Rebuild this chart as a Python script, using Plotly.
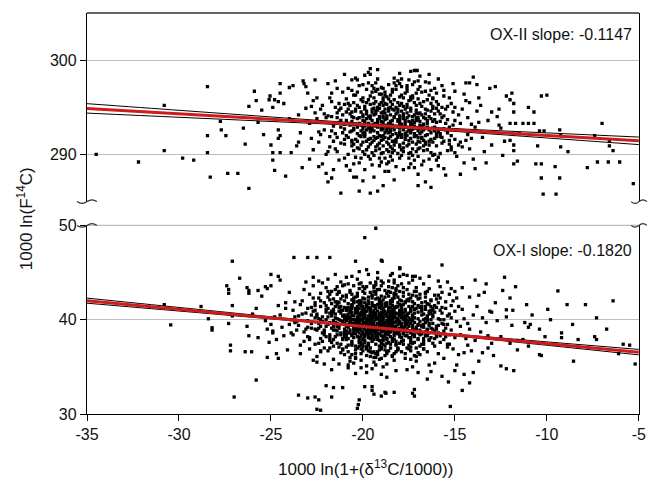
import plotly.graph_objects as go

# ---------------- data ----------------
x_ticks = [-35, -30, -25, -20, -15, -10, -5]
x_ticklabels = ["-35", "-30", "-25", "-20", "-15", "-10", "-5"]
ox2_ticks = [290, 300]
ox1_ticks = [30, 40, 50]

ox2_label = "OX-II slope: -0.1147"
ox1_label = "OX-I slope: -0.1820"
ox2_slope = -0.1147
ox2_intercept = 290.87
ox1_slope = -0.1820
ox1_intercept = 35.65

band_x = [-35, -30, -25, -20, -15, -10, -5]
ox2_band = [0.50, 0.37, 0.24, 0.13, 0.15, 0.27, 0.40]
ox1_band = [0.27, 0.19, 0.11, 0.06, 0.09, 0.18, 0.29]

ox2_points = [
(-19.2,293.4),(-18.1,291.8),(-17.4,294.6),(-20.3,292.2),(-16.8,293.0),(-18.9,295.7),(-21.4,293.9),(-15.9,292.4),(-19.7,290.8),(-17.9,296.3),
(-18.4,292.9),(-20.8,294.8),(-16.2,295.1),(-19.5,291.3),(-17.2,291.9),(-22.1,292.6),(-18.7,294.1),(-15.4,293.7),(-20.0,296.0),(-16.9,290.7),
(-19.9,293.0),(-17.7,293.3),(-18.3,290.4),(-21.0,291.6),(-16.4,294.0),(-19.0,297.1),(-17.0,295.9),(-20.6,293.5),(-14.8,294.2),(-18.6,292.3),
(-19.4,294.9),(-15.7,291.2),(-17.5,292.6),(-22.6,294.4),(-18.0,289.6),(-16.6,296.7),(-20.1,291.0),(-19.1,292.0),(-17.3,297.4),(-21.7,295.6),
(-18.8,293.7),(-16.0,293.4),(-14.3,292.1),(-20.4,289.7),(-17.8,294.3),(-19.6,295.3),(-18.2,296.9),(-15.2,295.4),(-21.2,292.9),(-16.7,291.5),
(-19.3,291.7),(-17.1,293.9),(-20.7,294.3),(-18.5,295.0),(-15.8,290.1),(-22.4,291.3),(-19.8,292.6),(-16.3,292.3),(-17.6,290.9),(-18.0,293.6),
(-20.2,297.3),(-14.6,290.8),(-19.0,289.2),(-17.4,296.1),(-21.5,290.6),(-16.1,297.0),(-18.6,291.1),(-20.9,295.9),(-15.5,294.8),(-19.4,293.2),
(-17.9,292.1),(-18.3,294.7),(-16.5,293.6),(-20.5,292.8),(-19.1,296.4),(-22.9,293.3),(-17.2,289.4),(-15.0,291.6),(-18.9,290.2),(-21.3,294.7),
(-16.9,294.4),(-19.7,294.0),(-18.1,297.8),(-20.0,290.3),(-17.6,295.3),(-14.1,293.2),(-16.2,289.9),(-19.2,298.0),(-21.8,291.9),(-18.4,291.4),
(-20.3,293.8),(-15.3,292.9),(-17.0,292.5),(-18.7,296.1),(-19.5,288.9),(-16.7,295.6),(-22.2,295.2),(-13.8,294.6),(-20.6,291.5),(-17.8,291.2),
(-18.2,293.0),(-19.9,295.1),(-16.4,291.0),(-21.1,296.6),(-15.6,296.2),(-18.9,292.7),(-17.3,294.0),(-20.8,290.0),(-14.9,289.8),(-19.3,296.7),
(-16.0,294.9),(-18.5,289.8),(-21.6,293.0),(-17.5,297.9),(-19.6,292.4),(-15.1,293.1),(-20.1,294.5),(-22.7,290.5),(-17.1,290.3),(-18.8,295.4),
(-16.6,292.0),(-19.0,294.4),(-20.4,296.3),(-14.4,295.7),(-18.0,291.0),(-21.9,294.1),(-17.7,293.0),(-15.9,288.8),(-19.8,290.5),(-16.8,296.6),
(-18.3,295.8),(-20.7,292.4),(-17.0,291.4),(-19.4,291.9),(-15.4,290.4),(-21.4,297.0),(-16.3,293.8),(-18.6,297.4),(-20.0,294.2),(-13.5,291.8),
(-17.4,292.3),(-19.1,290.6),(-22.3,292.1),(-16.1,291.7),(-18.1,294.5),(-20.2,289.1),(-15.7,297.3),(-19.7,297.6),(-17.9,289.9),(-21.0,293.2),
(-18.4,296.6),(-16.9,292.8),(-20.5,295.5),(-14.7,291.3),(-19.2,295.0),(-17.2,295.5),(-22.0,290.0),(-18.7,289.0),(-15.8,294.3),(-20.9,292.0),
(-16.5,290.5),(-19.5,293.6),(-17.6,297.0),(-21.2,291.2),(-18.0,292.4),(-14.2,290.6),(-20.3,297.9),(-16.2,295.9),(-19.0,291.5),(-23.1,294.9),
(-17.3,293.2),(-18.8,294.8),(-15.2,292.0),(-20.6,290.9),(-19.9,298.4),(-16.7,289.3),(-21.7,292.5),(-17.8,295.1),(-15.6,296.8),(-18.5,290.8),
(-19.3,294.3),(-17.1,296.5),(-20.1,293.1),(-16.0,290.9),(-18.2,288.7),(-22.5,296.0),(-14.5,296.4),(-19.6,289.5),(-17.5,291.1),(-21.5,295.0),
(-18.9,293.9),(-16.4,297.6),(-20.0,292.7),(-15.0,290.2),(-17.7,294.8),(-19.8,296.9),(-21.3,289.4),(-16.8,294.2),(-18.4,292.1),(-13.9,292.9),
(-22.8,291.7),(-23.4,292.3),(-21.9,297.5),(-22.2,289.0),(-23.0,296.5),(-21.6,288.4),(-24.0,293.8),(-23.6,290.9),(-22.6,297.9),(-24.3,295.4),
(-13.2,293.6),(-13.7,296.0),(-14.0,289.5),(-12.9,292.4),(-13.4,290.3),(-14.4,297.6),(-12.6,294.8),(-13.9,288.5),(-12.3,291.4),(-13.1,297.0),
(-18.6,288.2),(-17.0,287.9),(-19.4,287.6),(-16.3,288.4),(-20.7,288.3),(-15.5,287.8),(-18.0,298.6),(-16.9,298.3),(-19.2,299.0),(-17.4,298.8),
(-20.4,298.1),(-15.9,298.0),(-21.0,298.5),(-14.7,287.9),(-22.0,288.0),(-18.3,287.3),(-16.6,287.1),(-20.0,287.2),(-14.0,298.2),(-23.3,288.6),
(-19.0,292.8),(-18.1,293.5),(-17.3,292.7),(-19.6,294.1),(-18.6,293.3),(-17.8,293.8),(-18.9,291.6),(-20.2,293.3),(-16.5,293.3),(-17.6,292.0),
(-19.9,291.9),(-18.3,291.0),(-17.0,294.3),(-16.1,292.5),(-18.7,292.5),(-19.3,295.6),(-20.5,293.9),(-17.2,292.2),(-15.8,293.5),(-18.0,295.2),
(-19.5,292.6),(-16.9,291.3),(-17.9,290.5),(-20.8,293.3),(-18.5,294.2),(-16.3,294.6),(-19.1,293.8),(-17.5,293.5),(-18.2,292.2),(-15.3,291.5),
(-24.6,291.7),(-23.8,297.3),(-24.9,289.4),(-23.5,294.2),(-12.0,295.8),(-11.5,292.2),(-12.4,289.9),(-12.8,297.2),(-11.8,290.4),(-24.2,287.7),
(-16.2,296.0),(-18.8,296.3),(-20.3,295.2),(-15.0,295.0),(-21.4,294.4),(-17.4,289.0),(-19.7,289.8),(-16.0,289.4),(-21.8,290.8),(-14.3,293.9),
(-17.1,293.6),(-18.4,293.1),(-19.2,292.3),(-16.7,292.6),(-20.0,291.3),(-17.7,296.5),(-18.9,297.0),(-15.6,292.7),(-20.6,296.8),(-14.8,291.0),
(-18.7,293.8),(-17.5,291.5),(-19.4,292.5),(-16.6,294.3),(-20.1,295.8),(-18.0,290.8),(-17.1,295.2),(-19.9,293.5),(-16.2,292.8),(-18.5,296.3),
(-20.6,292.5),(-17.8,292.6),(-19.0,290.1),(-15.9,295.3),(-18.3,294.0),(-21.1,294.2),(-16.9,293.5),(-19.6,296.2),(-17.3,290.6),(-18.9,292.0),
(-20.4,291.6),(-16.4,296.3),(-19.2,294.7),(-17.6,293.9),(-15.4,292.3),(-18.1,295.5),(-21.5,292.2),(-17.0,289.8),(-19.8,294.6),(-16.7,290.9),
(-18.6,291.7),(-20.2,293.9),(-17.4,294.9),(-15.7,293.9),(-19.3,297.6),(-18.4,289.4),(-21.3,295.4),(-16.1,294.3),(-17.9,297.2),(-20.0,292.2),
(-19.1,291.2),(-17.2,293.0),(-15.2,290.5),(-18.8,294.4),(-20.8,297.0),(-16.5,292.1),(-19.5,290.2),(-17.7,291.6),(-22.0,293.9),(-18.2,297.3),
(-16.3,290.2),(-19.7,293.3),(-17.0,296.9),(-20.5,291.1),(-18.5,293.5),(-15.1,294.5),(-21.8,296.0),(-17.3,291.3),(-19.0,295.5),(-16.8,295.1),
(-18.0,292.8),(-20.3,290.7),(-17.5,295.7),(-19.4,289.9),(-15.6,291.4),(-18.7,290.5),(-21.0,291.1),(-16.0,296.5),(-19.8,291.4),(-17.8,296.0),
(-18.3,292.6),(-20.7,295.2),(-16.6,291.1),(-19.2,291.0),(-14.9,292.6),(-17.1,292.0),(-22.5,293.8),(-18.9,296.0),(-20.0,297.4),(-16.2,293.5),
(-19.5,294.5),(-17.6,294.4),(-15.3,296.0),(-18.1,290.1),(-21.2,293.6),(-16.9,297.2),(-19.9,290.0),(-17.4,290.2),(-18.6,295.9),(-20.4,294.8),
(-16.4,292.6),(-19.0,293.1),(-17.7,292.9),(-15.8,291.9),(-18.4,295.3),(-21.6,291.4),(-16.7,293.9),(-20.1,289.6),(-17.2,297.7),(-19.3,293.0),
(-18.2,291.3),(-16.0,291.9),(-20.6,294.0),(-17.9,294.6),(-19.6,291.7),(-15.5,293.3),(-18.8,289.6),(-21.4,290.3),(-17.0,293.7),(-19.2,296.9),
(-16.3,295.4),(-18.5,292.4),(-20.2,292.0),(-17.5,289.6),(-19.7,295.8),(-15.0,293.6),(-18.0,294.1),(-22.3,294.8),(-16.8,291.8),(-19.1,294.0),
(-17.3,296.2),(-20.9,293.6),(-18.7,291.3),(-16.1,290.0),(-19.4,296.0),(-17.8,290.3),(-14.6,294.8),(-18.3,297.6),(-20.5,290.4),(-16.6,294.8),
(-19.9,292.3),(-17.1,291.1),(-18.9,295.2),(-21.7,294.0),(-16.4,289.5),(-19.3,290.4),(-17.6,296.7),(-15.7,295.0),(-18.1,292.9),(-20.0,295.6),
(-16.9,292.2),(-18.6,294.9),(-20.8,291.8),(-17.4,293.4),(-19.5,297.3),(-15.3,291.1),(-18.4,290.2),(-21.0,295.3),(-16.2,291.3),(-19.0,292.6),
(-17.9,293.2),(-19.8,293.8),(-18.6,292.9),(-17.2,294.2),(-18.9,293.4),(-19.4,294.2),(-18.1,294.8),(-17.7,291.9),(-19.2,291.8),(-18.4,293.6),
(-16.7,293.2),(-20.3,292.9),(-17.4,292.5),(-18.8,292.3),(-19.6,293.0),(-18.0,293.9),(-17.0,292.8),(-20.0,293.6),(-18.5,291.9),(-16.5,294.7),
(-23.5,291.3),(-22.8,295.1),(-23.9,290.2),(-22.4,288.7),(-23.2,297.5),(-13.6,295.2),(-14.1,291.7),(-13.3,289.1),(-14.5,289.1),(-13.0,291.0),
(-12.6,293.1),(-14.2,295.5),(-13.8,297.4),(-12.2,296.2),(-15.1,297.5),(-22.9,289.5),(-21.5,297.8),(-20.9,288.8),(-15.6,288.5),(-17.8,288.4),
(-18.2,294.3),(-19.5,292.9),(-17.3,293.6),(-20.4,294.6),(-16.8,292.4),(-18.9,290.9),(-17.6,295.0),(-19.9,292.1),(-16.1,293.7),(-18.5,295.6),
(-20.7,293.1),(-17.0,290.6),(-19.2,293.7),(-15.8,292.2),(-18.0,296.1),(-21.0,292.7),(-17.5,294.1),(-19.6,291.1),(-16.5,295.8),(-18.7,292.7),
(-20.1,291.9),(-17.9,295.4),(-19.3,294.6),(-16.3,291.6),(-18.4,290.6),(-20.9,294.5),(-17.2,292.8),(-19.0,296.4),(-15.6,294.1),(-18.1,292.0),
(-20.5,292.6),(-16.9,295.4),(-19.7,292.8),(-17.4,291.7),(-18.6,294.6),(-21.3,293.4),(-16.0,292.2),(-19.1,295.3),(-17.8,290.7),(-18.3,293.9),
(-20.2,295.0),(-16.6,293.8),(-19.4,291.5),(-17.1,294.7),(-18.8,291.8),(-15.9,294.6),(-20.6,291.3),(-17.7,293.6),(-19.8,295.5),(-16.4,291.4),
(-18.5,293.2),(-21.1,292.3),(-17.0,293.9),(-19.5,294.8),(-16.7,290.4),(-18.2,291.6),(-20.0,294.0),(-17.3,296.0),(-19.0,291.9),(-15.5,292.6),
(-18.9,294.5),(-20.3,291.4),(-16.2,294.9),(-19.2,292.9),(-17.5,290.1),(-18.0,293.3),(-20.8,295.4),(-16.8,291.7),(-19.6,293.8),(-17.8,294.0),
(-18.4,296.9),(-21.5,293.3),(-16.0,295.6),(-19.3,290.8),(-17.2,293.4),(-18.7,295.3),(-20.1,292.5),(-15.7,291.8),(-19.8,294.3),(-17.6,292.4),
(-18.3,291.4),(-20.5,296.3),(-16.5,292.9),(-19.1,294.9),(-17.0,291.8),(-18.6,290.3),(-20.0,293.0),(-16.3,296.8),(-19.4,295.4),(-17.4,295.8),
(-18.1,293.7),(-21.2,294.9),(-16.9,293.1),(-19.7,291.6),(-17.9,291.8),(-18.8,296.6),(-20.4,293.2),(-15.4,295.1),(-19.0,293.5),(-17.1,294.4),
(-18.5,292.6),(-19.9,294.8),(-17.7,292.2),(-18.2,295.0),(-19.3,293.3),(-18.0,292.1),(-17.4,293.1),(-19.6,292.7),(-18.7,293.1),(-18.9,294.1),
(-20.6,294.5),(-16.6,291.3),(-19.5,296.6),(-17.3,289.9),(-18.4,294.8),(-21.4,291.8),(-16.1,292.9),(-19.1,289.6),(-17.6,297.3),(-20.2,290.6),
(-22.1,294.3),(-14.7,293.3),(-21.7,296.5),(-15.2,290.8),(-22.4,292.4),(-14.4,291.5),(-21.9,290.3),(-15.0,296.7),(-22.7,295.7),(-13.7,293.4),
(-18.3,298.1),(-19.7,298.7),(-17.0,297.8),(-20.6,297.9),(-16.4,298.5),(-18.8,288.2),(-17.5,288.6),(-19.9,288.4),(-16.8,288.9),(-20.5,289.0),
(-18.0,297.5),(-19.4,297.0),(-16.6,297.7),(-17.9,298.0),(-20.3,296.6),(-18.6,289.2),(-17.2,288.6),(-19.1,288.8),(-15.9,289.7),(-21.0,289.6),
(-34.5,290.0),(-32.2,289.2),(-30.8,295.2),(-30.8,290.4),(-29.8,289.6),(-29.2,289.4),(-28.45,297.2),(-28.45,292.0),(-28.45,290.2),(-28.3,287.6),
(-27.35,288.0),(-26.8,288.0),(-27.75,293.5),(-27.7,292.6),(-27.45,292.0),(-26.4,291.1),(-26.5,292.8),(-26.2,286.4),(-26.2,295.1),(-25.9,296.7),
(-25.8,295.7),(-25.5,294.7),(-25.7,293.4),(-25.4,292.1),(-25.1,295.8),(-25.05,296.2),(-24.8,295.8),(-24.5,297.5),(-25.0,291.0),(-24.9,290.2),
(-24.8,288.3),(-24.6,292.6),(-24.5,292.0),(-24.5,290.2),(-24.9,295.0),(-24.6,295.6),
(-11.9,296.5),(-11.8,295.4),(-11.8,294.5),(-12.0,293.3),(-11.7,293.3),(-12.0,291.5),(-11.8,291.0),(-11.6,289.3),(-11.8,289.0),(-11.0,295.0),
(-10.7,294.5),(-11.3,293.3),(-11.0,293.3),(-10.7,293.3),(-10.3,296.2),(-10.0,296.3),(-10.4,292.5),(-10.15,292.5),(-10.5,290.9),(-10.3,289.0),
(-10.6,289.0),(-10.3,287.5),(-10.2,285.8),(-9.5,285.8),(-9.55,288.7),(-9.3,287.5),(-9.25,290.8),(-9.3,292.6),(-9.25,292.0),(-8.85,290.3),
(-7.8,288.6),(-7.25,289.2),(-6.66,289.2),(-6.04,289.2),(-7.4,292.0),(-7.0,293.3),(-6.6,291.4),(-6.6,290.9),(-6.4,290.4),(-5.3,286.9),
(-13.0,294.5),(-12.7,294.0),(-12.5,292.8),
(-21.2,285.9),(-20.2,286.1),(-19.6,285.9),(-19.2,286.1),(-19.6,299.1),(-19.6,298.5),(-17.2,298.9),(-17.05,298.9),(-23.25,297.8),(-23.1,297.2),
(-24.0,297.1),(-24.5,296.5),(-21.9,287.1),(-21.7,287.5),(-20.5,287.6),(-20.35,287.6),(-17.0,286.7),(-18.9,286.7),(-16.3,286.5),(-14.2,297.6),
]

ox1_points = [
(-19.4,39.8),(-18.2,41.3),(-20.7,38.6),(-17.5,40.2),(-21.3,40.9),(-19.0,37.5),(-18.8,42.4),(-20.1,40.5),(-16.9,38.9),(-22.0,39.3),
(-19.7,41.7),(-17.9,39.1),(-20.4,36.8),(-18.5,38.2),(-21.8,42.1),(-16.3,41.0),(-19.2,40.1),(-20.9,39.9),(-17.2,37.6),(-18.0,43.0),
(-22.5,40.6),(-19.9,38.4),(-18.7,40.7),(-20.3,42.8),(-17.0,39.5),(-21.1,37.9),(-15.8,40.0),(-19.5,36.5),(-18.4,39.6),(-20.6,41.4),
(-16.6,38.3),(-19.1,42.0),(-21.6,38.9),(-18.1,37.0),(-20.0,39.2),(-17.7,41.8),(-23.0,41.2),(-19.3,38.9),(-15.5,39.1),(-20.8,37.3),
(-18.6,41.1),(-17.3,42.6),(-21.9,40.3),(-19.8,43.5),(-16.1,37.2),(-20.2,38.1),(-18.3,36.4),(-22.3,38.0),(-17.6,38.7),(-19.6,40.9),
(-20.5,40.0),(-18.9,39.0),(-16.7,40.6),(-21.4,41.6),(-19.0,35.9),(-17.1,43.4),(-22.8,39.6),(-18.0,40.4),(-20.7,43.1),(-15.2,41.5),
(-19.4,37.9),(-17.8,40.0),(-21.0,36.3),(-18.5,42.9),(-16.4,39.4),(-20.3,40.8),(-23.5,40.4),(-19.1,41.3),(-17.4,36.7),(-21.7,39.1),
(-18.2,38.6),(-20.0,42.3),(-16.0,42.2),(-19.7,39.4),(-22.1,41.8),(-17.0,38.0),(-18.8,37.2),(-20.9,41.2),(-15.6,37.9),(-19.3,44.0),
(-21.2,38.4),(-18.4,41.9),(-17.5,39.3),(-20.4,39.5),(-19.6,37.0),(-16.8,41.4),(-22.6,37.4),(-18.1,39.9),(-20.1,36.9),(-14.9,39.8),
(-19.9,40.3),(-17.2,41.1),(-21.5,43.2),(-18.7,38.5),(-16.2,40.3),(-20.6,38.3),(-19.0,43.6),(-23.2,38.7),(-17.8,37.4),(-18.3,40.6),
(-20.8,40.2),(-19.2,38.0),(-16.5,36.6),(-21.8,40.7),(-18.0,41.6),(-17.4,40.9),(-20.2,37.6),(-15.9,38.6),(-19.5,42.6),(-22.4,42.3),
(-18.6,39.3),(-21.0,39.6),(-17.1,39.0),(-19.8,36.2),(-16.9,42.7),(-20.5,41.9),(-24.0,39.5),(-18.9,40.8),(-15.3,38.4),(-20.0,40.7),
(-19.3,39.1),(-17.6,42.1),(-21.3,37.1),(-18.4,37.7),(-22.7,40.9),(-16.6,39.7),(-19.9,41.1),(-20.7,36.0),(-17.9,43.8),(-14.6,41.1),
(-18.8,39.7),(-20.3,39.7),(-16.3,38.1),(-21.6,41.1),(-19.1,36.8),(-17.3,38.4),(-23.7,41.9),(-18.2,42.7),(-20.9,38.8),(-15.7,42.9),
(-19.6,38.6),(-17.0,41.5),(-22.2,38.6),(-18.5,40.1),(-20.1,43.9),(-16.0,39.3),(-21.1,42.5),(-19.4,35.5),(-17.7,39.8),(-24.3,38.3),
(-20.4,38.9),(-18.0,38.8),(-16.4,43.3),(-21.9,36.7),(-19.0,41.9),(-17.5,37.3),(-22.9,42.7),(-18.7,41.5),(-15.1,36.9),(-20.6,42.1),
(-19.7,40.0),(-17.8,40.7),(-21.4,39.3),(-18.3,35.7),(-16.7,37.7),(-20.0,37.3),(-23.4,37.3),(-19.2,43.2),(-14.4,38.0),(-18.9,37.8),
(-20.8,40.6),(-17.2,39.7),(-19.5,40.4),(-21.7,37.6),(-18.1,43.6),(-16.1,40.8),(-22.0,43.4),(-19.9,37.6),(-17.4,42.3),(-15.4,40.4),
(-18.6,40.3),(-20.2,41.6),(-16.8,38.5),(-21.2,44.0),(-19.3,36.0),(-17.9,38.1),(-23.9,40.0),(-18.4,43.4),(-20.5,35.4),(-15.0,43.0),
(-19.0,39.4),(-17.6,40.4),(-21.5,38.2),(-18.8,36.2),(-16.5,41.7),(-20.3,44.3),(-22.5,36.1),(-19.6,42.9),(-17.1,35.6),(-24.6,41.5),
(-20.0,38.5),(-18.5,39.4),(-21.0,40.5),(-17.3,41.9),(-19.8,39.7),(-16.2,37.5),(-22.3,41.4),(-18.2,36.6),(-20.7,39.4),(-14.8,36.3),
(-19.4,41.0),(-17.7,36.4),(-21.8,39.7),(-18.9,42.1),(-16.6,42.9),(-20.4,36.4),(-23.1,39.0),(-19.1,39.5),(-15.5,41.9),(-18.0,37.5),
(-20.9,40.0),(-17.0,40.1),(-19.7,38.1),(-21.3,42.9),(-18.3,41.2),(-16.9,36.3),(-22.6,40.2),(-19.2,44.4),(-17.5,43.9),(-20.1,35.7),
(-18.7,39.9),(-20.6,37.7),(-16.3,40.0),(-21.6,35.8),(-19.5,39.0),(-17.8,42.5),(-24.1,36.8),(-18.4,38.0),(-15.8,43.5),(-20.2,43.3),
(-19.9,42.2),(-17.4,37.1),(-21.1,38.0),(-18.6,44.1),(-16.0,41.3),(-20.0,41.2),(-22.9,38.1),(-19.3,37.4),(-14.2,42.4),(-17.9,41.2),
(-20.5,39.2),(-18.1,40.0),(-16.7,39.2),(-21.9,42.4),(-19.0,38.3),(-17.2,38.9),(-23.6,38.9),(-18.8,43.1),(-15.3,37.4),(-20.8,35.2),
(-19.6,40.7),(-17.6,39.0),(-21.4,40.1),(-18.5,37.0),(-16.4,41.6),(-20.3,42.5),(-22.1,37.0),(-19.8,35.1),(-17.3,44.2),(-24.8,40.3),
(-18.2,40.2),(-20.7,41.0),(-16.8,40.5),(-21.2,36.5),(-19.4,43.0),(-17.1,37.0),(-22.4,44.1),(-18.7,35.3),(-15.6,39.5),(-20.0,38.0),
(-19.1,40.6),(-17.8,38.5),(-21.7,40.4),(-18.3,42.8),(-16.1,38.8),(-20.4,37.2),(-23.3,42.0),(-19.7,36.7),(-17.4,39.6),(-14.5,40.1),
(-18.9,38.8),(-20.2,39.9),(-16.5,39.9),(-21.0,43.7),(-19.3,41.5),(-17.7,35.9),(-22.7,35.7),(-18.0,44.6),(-15.9,36.4),(-20.9,42.6),
(-19.2,39.6),(-18.7,40.5),(-19.8,40.1),(-20.3,39.1),(-18.4,39.2),(-19.5,38.8),(-20.0,40.9),(-18.9,41.0),(-19.6,39.3),(-20.5,40.4),
(-18.1,39.5),(-19.3,40.3),(-20.2,38.6),(-18.6,38.4),(-19.9,39.0),(-20.8,39.5),(-18.3,40.9),(-19.0,40.8),(-19.7,38.3),(-20.4,41.2),
(-18.8,39.1),(-19.4,41.4),(-20.1,39.3),(-18.5,40.8),(-19.1,38.5),(-20.6,40.0),(-17.9,39.4),(-19.6,40.5),(-20.3,38.2),(-18.2,41.4),
(-19.0,40.0),(-19.8,41.6),(-18.6,39.7),(-20.9,41.0),(-19.3,38.1),(-18.0,40.5),(-20.4,39.8),(-19.5,41.8),(-18.4,38.9),(-21.1,39.8),
(-19.7,39.5),(-18.9,40.2),(-20.2,40.6),(-17.8,40.3),(-19.2,37.9),(-20.7,38.9),(-18.7,41.8),(-19.4,39.0),(-21.0,41.3),(-18.3,38.3),
(-19.9,40.5),(-18.5,39.8),(-20.5,39.0),(-19.1,41.7),(-17.6,39.9),(-20.0,37.9),(-18.9,38.2),(-19.5,40.0),(-21.3,40.0),(-18.1,38.9),
(-20.1,41.5),(-19.3,39.3),(-18.6,41.3),(-20.6,40.8),(-17.9,41.0),(-19.8,38.8),(-21.2,38.6),(-18.4,40.0),(-19.0,37.7),(-20.3,40.3),
(-16.5,40.2),(-17.3,40.5),(-16.9,39.8),(-17.6,38.8),(-16.2,39.0),(-17.0,42.2),(-16.7,37.4),(-15.7,40.7),(-17.4,38.6),(-16.0,38.2),
(-22.2,39.8),(-21.5,40.6),(-22.8,40.5),(-21.8,38.4),(-22.4,39.1),(-21.3,41.8),(-23.0,39.9),(-21.6,37.2),(-22.6,41.5),(-21.0,38.5),
(-17.2,40.7),(-16.4,38.6),(-17.7,39.6),(-15.4,39.5),(-16.8,41.1),(-15.9,41.8),(-17.0,37.9),(-16.3,42.1),(-15.2,38.9),(-16.6,40.1),
(-22.0,40.8),(-23.5,39.4),(-21.4,42.7),(-22.9,37.9),(-23.8,41.0),(-21.7,43.0),(-24.4,39.2),(-22.3,36.7),(-23.2,43.2),(-24.9,38.8),
(-14.7,39.3),(-14.0,40.5),(-13.6,38.7),(-14.3,37.3),(-13.8,41.4),(-14.9,42.3),(-13.3,39.7),(-14.1,36.7),(-13.1,40.9),(-14.6,43.4),
(-19.2,45.0),(-18.4,44.9),(-20.6,44.6),(-17.6,44.7),(-21.5,44.8),(-19.8,45.3),(-16.9,44.4),(-22.7,44.5),(-18.0,45.5),(-20.2,45.1),
(-19.5,34.8),(-18.2,34.6),(-20.8,34.9),(-17.3,35.0),(-21.7,34.7),(-19.0,34.2),(-16.4,35.2),(-22.1,35.3),(-18.7,33.9),(-20.4,34.3),
(-25.3,39.9),(-25.8,41.2),(-25.1,37.6),(-26.0,40.6),(-25.5,42.5),(-24.7,36.4),(-26.3,39.3),(-25.0,43.6),(-24.5,44.2),(-25.7,38.1),
(-12.8,41.8),(-12.5,38.2),(-13.0,37.5),(-12.2,40.3),(-13.4,42.9),(-12.9,36.2),(-11.9,39.4),(-13.7,35.6),(-12.4,43.1),(-11.6,37.8),
(-18.5,40.4),(-19.6,38.0),(-20.7,40.2),(-18.0,39.1),(-19.1,42.2),(-20.3,41.9),(-17.7,40.9),(-21.1,40.4),(-18.8,36.8),(-19.9,43.3),
(-17.5,41.4),(-20.1,36.4),(-18.3,43.9),(-21.6,39.9),(-16.6,38.7),(-19.3,35.2),(-22.3,40.0),(-17.1,36.1),(-20.8,43.8),(-15.8,42.3),
(-19.4,40.7),(-18.7,38.7),(-20.4,38.5),(-17.9,42.0),(-21.4,41.9),(-16.2,41.2),(-19.7,42.4),(-18.2,37.3),(-20.9,37.1),(-17.4,40.0),
(-19.0,39.8),(-18.6,40.0),(-19.5,39.6),(-20.0,39.6),(-18.9,39.5),(-19.3,40.7),(-19.8,39.8),(-18.4,40.6),(-20.2,40.1),(-19.1,39.0),
(-19.3,39.2),(-18.6,41.0),(-20.2,40.4),(-17.9,39.6),(-21.0,39.0),(-19.8,38.5),(-18.2,40.7),(-20.6,41.6),(-17.4,41.2),(-19.0,42.5),
(-20.9,38.1),(-18.8,39.3),(-16.8,40.9),(-19.6,41.2),(-21.5,40.2),(-18.0,38.4),(-20.3,37.0),(-17.2,40.2),(-19.2,36.3),(-22.2,40.3),
(-18.4,42.2),(-20.0,40.2),(-16.4,39.6),(-19.7,37.3),(-21.2,41.4),(-17.7,38.3),(-19.4,43.4),(-20.7,39.8),(-18.1,36.8),(-22.5,38.9),
(-17.0,40.8),(-19.1,40.4),(-20.5,42.3),(-18.6,37.6),(-16.1,41.5),(-21.8,38.1),(-19.9,41.8),(-17.6,43.2),(-20.1,38.9),(-18.3,39.7),
(-21.3,39.4),(-16.9,37.2),(-19.5,38.4),(-18.7,42.8),(-20.8,36.6),(-17.3,39.4),(-22.0,41.1),(-19.0,36.9),(-15.9,40.1),(-18.5,41.7),
(-20.4,40.7),(-17.8,37.8),(-19.2,41.6),(-21.6,42.2),(-18.1,38.6),(-16.6,42.4),(-20.0,36.7),(-19.6,43.9),(-17.5,38.1),(-21.9,39.5),
(-18.9,40.1),(-20.6,37.5),(-16.3,39.1),(-19.3,42.7),(-22.6,39.0),(-17.9,41.5),(-18.4,36.1),(-20.2,42.0),(-15.6,38.8),(-19.8,40.0),
(-21.1,41.0),(-17.1,42.5),(-19.0,38.7),(-18.2,43.3),(-20.9,39.3),(-16.7,36.9),(-19.5,41.5),(-22.3,42.8),(-17.6,40.6),(-18.7,36.4),
(-20.3,39.4),(-15.3,40.6),(-19.1,37.2),(-21.4,38.8),(-18.0,42.1),(-16.5,40.4),(-19.7,42.0),(-20.7,35.6),(-17.3,37.5),(-23.3,40.6),
(-18.5,38.7),(-20.1,41.8),(-16.2,41.0),(-19.4,36.6),(-21.7,41.7),(-17.8,42.9),(-19.9,38.2),(-18.3,39.0),(-20.5,43.6),(-15.8,37.6),
(-19.2,40.9),(-17.0,38.6),(-20.8,41.3),(-18.6,43.5),(-21.2,37.4),(-16.6,41.9),(-19.6,39.9),(-18.1,41.8),(-22.8,41.3),(-17.4,35.8),
(-20.0,38.7),(-18.8,40.6),(-16.0,38.5),(-19.3,43.7),(-21.0,42.0),(-17.7,40.1),(-19.8,37.0),(-18.4,41.1),(-20.4,36.0),(-15.1,42.0),
(-19.0,41.2),(-17.2,41.7),(-21.5,39.7),(-18.2,37.4),(-20.6,40.5),(-16.8,39.3),(-19.5,37.7),(-22.1,38.4),(-17.9,36.6),(-18.9,43.9),
(-20.2,39.6),(-16.4,37.8),(-19.7,41.3),(-21.3,43.0),(-18.0,39.8),(-17.5,42.7),(-20.9,38.4),(-19.1,35.8),(-15.5,41.2),(-18.6,38.9),
(-19.4,40.2),(-20.7,42.9),(-17.0,36.5),(-18.5,41.3),(-21.8,37.8),(-16.1,42.6),(-19.9,39.3),(-18.3,37.9),(-23.0,38.2),(-17.3,40.3),
(-20.3,41.1),(-18.7,39.0),(-16.7,38.0),(-19.2,38.6),(-21.6,40.8),(-17.6,37.0),(-20.0,43.0),(-18.1,42.4),(-15.7,39.6),(-19.6,36.1),
(-20.8,38.0),(-17.8,39.2),(-19.0,44.1),(-18.4,40.3),(-21.1,36.8),(-16.3,40.7),(-19.5,40.8),(-22.4,37.5),(-17.1,43.0),(-20.5,38.6),
(-18.8,41.4),(-19.7,39.1),(-16.9,41.3),(-20.1,37.4),(-18.2,39.3),(-21.4,43.5),(-17.4,38.8),(-19.3,42.2),(-15.4,37.1),(-18.6,36.7),
(-19.8,40.9),(-17.7,41.1),(-20.4,39.0),(-18.9,37.4),(-21.9,41.2),(-16.5,38.9),(-19.1,39.7),(-20.9,42.4),(-17.2,38.2),(-18.3,44.2),
(-19.5,39.4),(-18.7,40.3),(-20.1,40.0),(-19.0,40.6),(-18.4,39.5),(-19.8,39.4),(-20.5,39.6),(-19.3,40.0),(-18.9,39.8),(-19.6,40.3),
(-20.2,39.0),(-18.6,39.6),(-19.1,40.4),(-19.9,40.7),(-18.1,40.1),(-20.7,39.7),(-19.4,38.7),(-18.5,39.0),(-20.0,41.0),(-19.2,38.3),
(-18.0,41.0),(-20.4,40.9),(-19.7,40.4),(-18.8,38.6),(-19.3,41.2),(-20.6,38.4),(-18.3,40.4),(-19.6,38.9),(-20.3,40.0),(-19.0,39.2),
(-17.6,39.7),(-21.2,39.9),(-18.7,37.9),(-20.0,41.4),(-17.3,40.0),(-21.0,40.1),(-18.4,42.0),(-19.9,37.8),(-17.9,40.5),(-20.6,41.2),
(-14.3,39.6),(-13.9,37.8),(-14.8,41.4),(-13.5,40.2),(-14.5,36.5),(-15.0,38.1),(-13.7,42.6),(-14.2,39.0),(-15.2,43.3),(-13.2,37.0),
(-23.7,39.7),(-24.2,41.8),(-23.4,36.4),(-24.5,40.5),(-22.7,43.6),(-23.8,38.4),(-24.0,42.9),(-22.9,36.9),(-24.7,37.9),(-23.1,44.0),
(-16.4,44.6),(-15.9,44.1),(-17.8,44.8),(-20.9,44.5),(-18.5,44.7),(-21.9,44.3),(-19.7,44.8),(-16.1,35.4),(-17.6,34.7),(-20.1,34.9),
(-21.3,35.3),(-18.9,35.0),(-22.5,35.5),(-15.6,35.9),(-19.8,34.4),(-17.0,34.4),(-16.7,43.8),(-15.4,44.0),(-14.9,35.2),(-22.2,43.9),
(-19.6,39.7),(-18.8,40.9),(-20.3,38.8),(-17.7,40.4),(-21.2,40.7),(-19.1,37.8),(-18.5,42.0),(-20.0,39.9),(-17.1,39.2),(-22.0,40.0),
(-19.4,41.5),(-18.0,39.6),(-20.6,37.3),(-18.7,38.0),(-21.5,41.9),(-16.6,41.1),(-19.3,40.5),(-20.8,39.2),(-17.4,37.8),(-18.3,42.6),
(-22.3,39.3),(-19.7,38.6),(-18.9,41.2),(-20.4,42.4),(-17.3,39.1),(-21.0,38.2),(-16.2,40.5),(-19.8,36.9),(-18.6,39.4),(-20.5,41.8),
(-16.9,38.4),(-19.2,42.3),(-21.4,39.6),(-18.2,37.7),(-20.1,38.3),(-17.8,41.6),(-22.6,41.0),(-19.5,38.1),(-15.9,39.4),(-20.9,37.9),
(-18.4,41.5),(-17.5,42.2),(-21.7,40.9),(-19.9,42.8),(-16.4,37.9),(-20.2,37.8),(-18.1,36.9),(-22.1,38.7),(-17.6,38.3),(-19.6,41.1),
(-20.7,40.3),(-19.0,38.9),(-16.7,40.0),(-21.3,41.3),(-19.3,36.4),(-17.2,43.0),(-22.4,40.1),(-18.3,40.2),(-20.6,42.7),(-15.7,41.3),
(-19.5,38.3),(-17.9,40.2),(-21.1,36.9),(-18.6,42.5),(-16.5,39.0),(-20.2,40.6),(-23.1,40.7),(-19.0,41.6),(-17.5,36.9),(-21.6,39.3),
(-18.0,38.2),(-20.1,42.0),(-16.3,42.0),(-19.8,39.6),(-22.0,41.5),(-17.2,38.4),(-18.7,37.5),(-20.8,41.7),(-15.8,38.3),(-19.4,43.6),
(-21.0,38.7),(-18.5,41.7),(-17.6,39.5),(-20.3,39.2),(-19.7,37.5),(-16.8,41.8),(-22.2,37.7),(-18.2,39.8),(-20.0,37.1),(-15.2,40.2),
(-19.9,40.2),(-17.3,41.4),(-21.3,42.9),(-18.8,38.3),(-16.4,40.6),(-20.5,38.1),(-19.1,43.2),(-23.0,39.2),(-17.9,37.7),(-18.4,40.9),
(-20.9,40.4),(-19.3,38.4),(-16.7,36.9),(-21.7,40.6),(-18.1,41.4),(-17.5,40.7),(-20.2,37.2),(-16.0,39.0),(-19.5,42.3),(-22.3,42.0),
(-18.7,39.2),(-21.1,39.8),(-17.0,39.4),(-19.6,36.6),(-16.9,42.3),(-20.6,41.5),(-23.6,39.8),(-18.9,40.4),(-15.5,38.2),(-20.1,40.8),
(-19.2,39.0),(-17.7,41.9),(-21.4,37.5),(-18.5,37.4),(-22.5,40.4),(-16.7,39.5),(-19.8,41.4),(-20.6,36.3),(-17.8,43.4),(-15.0,40.9),
(-18.9,39.5),(-20.4,39.3),(-16.5,38.3),(-21.5,41.4),(-19.0,37.1),(-17.4,38.1),(-23.4,41.6),(-18.3,42.3),(-20.8,38.6),(-15.9,42.6),
(-19.7,38.9),(-17.1,41.2),(-22.1,38.9),(-18.6,40.0),(-20.0,43.5),(-16.2,39.6),(-21.2,42.2),(-19.4,36.0),(-17.7,39.3),(-23.9,38.6),
(-20.3,39.0),(-18.1,38.5),(-16.6,42.8),(-21.8,37.0),(-19.1,41.8),(-17.4,37.6),(-22.7,42.3),(-18.8,41.7),(-15.4,37.4),(-20.5,42.0),
(-19.6,40.2),(-17.9,40.8),(-21.3,39.1),(-18.4,36.2),(-16.8,37.4),(-20.1,37.6),(-23.2,37.7),(-19.3,43.0),(-14.7,38.4),(-18.9,38.0),
(-20.7,40.8),(-17.3,39.9),(-19.4,40.6),(-21.6,37.9),(-18.2,43.1),(-16.3,41.4),(-21.9,43.0),(-19.8,37.2),(-17.5,42.0),(-15.6,40.0),
(-18.5,40.6),(-20.3,41.4),(-16.9,38.7),(-21.1,43.6),(-19.2,36.6),(-17.8,38.6),(-23.7,40.3),(-18.6,43.0),(-20.4,35.9),(-15.3,42.7),
(-19.1,39.3),(-17.7,40.0),(-21.4,38.4),(-18.7,36.6),(-16.6,41.4),(-20.2,43.8),(-22.3,36.6),(-19.5,42.6),(-17.2,36.2),(-24.2,41.2),
(-19.2,40.2),(-19.7,39.9),(-18.6,40.8),(-20.1,39.4),(-19.0,40.3),(-18.3,39.3),(-19.9,40.9),(-20.4,40.0),(-18.8,39.6),(-19.4,39.5),
(-20.0,40.5),(-18.5,40.0),(-19.6,41.0),(-19.3,38.6),(-18.1,40.6),(-20.6,39.6),(-19.0,41.4),(-18.7,39.4),(-19.8,38.7),(-20.3,40.8),
(-18.4,39.9),(-19.5,40.3),(-20.2,41.2),(-18.9,38.9),(-19.1,40.0),(-20.8,40.1),(-18.2,39.0),(-19.7,41.2),(-18.6,38.7),(-19.9,39.7),
(-17.5,39.8),(-21.0,40.3),(-18.0,40.8),(-20.5,38.9),(-17.8,39.0),(-21.2,41.0),(-18.3,38.6),(-20.7,41.1),(-17.4,41.0),(-21.5,38.9),
(-16.8,39.4),(-22.4,39.6),(-16.4,40.9),(-22.0,38.2),(-16.1,38.0),(-22.6,41.8),(-15.8,41.0),(-22.8,39.1),(-16.5,43.0),(-21.8,42.7),
(-30.45,39.45),(-30.8,41.6),(-28.8,41.4),(-28.4,40.1),(-28.2,39.15),(-28.2,38.9),(-27.1,46.2),(-26.7,44.4),(-27.4,43.6),(-27.3,43.2),
(-27.3,42.8),(-27.1,41.5),(-27.1,40.4),(-27.3,39.6),(-27.2,37.3),(-27.2,36.7),(-27.0,31.8),(-25.8,33.6),(-26.3,43.4),(-26.2,43.1),
(-26.2,42.8),(-26.05,36.6),(-26.4,36.6),(-26.2,38.3),(-25.7,43.1),(-25.3,43.5),(-25.2,43.3),(-25.0,44.8),(-24.6,44.6),(-25.0,39.5),
(-25.2,39.0),(-24.9,38.6),(-25.2,36.0),(-24.6,35.9),
(-23.75,46.6),(-23.0,46.6),(-22.5,46.6),(-21.8,46.6),(-20.4,46.2),(-19.9,48.7),(-19.3,49.7),(-18.95,46.2),(-18.0,45.5),(-22.6,31.8),
(-22.4,31.5),(-22.3,30.4),(-22.5,30.5),(-20.2,31.5),(-20.25,31.0),(-20.3,30.6),(-23.5,32.0),(-23.0,31.7),(-22.0,33.0),(-21.6,32.8),
(-19.5,32.5),(-18.8,32.3),(-18.3,32.3),(-17.2,32.6),(-21.7,31.8),(-21.1,32.8),(-19.9,32.9),(-19.5,32.9),(-19.4,32.1),(-19.0,31.9),
(-18.75,32.2),(-17.3,32.2),(-17.2,31.9),(-15.25,30.8),(-16.3,34.5),(-15.35,33.4),(-16.5,33.7),(-15.7,34.0),(-19.0,46.3),(-15.7,45.8),
(-17.3,44.6),(-17.15,44.6),(-18.0,45.4),
(-13.9,44.2),(-11.7,43.5),(-12.0,42.3),(-9.4,43.05),(-8.9,41.6),(-7.9,41.6),(-6.4,42.0),(-9.95,41.1),(-12.2,41.05),(-11.85,41.0),
(-13.0,40.8),(-7.3,40.2),(-6.75,39.0),(-9.2,38.6),(-9.2,38.1),(-8.3,37.9),(-7.4,38.2),(-7.3,37.9),(-5.85,37.4),(-5.5,37.3),
(-6.1,36.4),(-5.2,35.3),(-8.55,35.6),(-10.4,36.3),(-10.3,36.2),(-11.2,39.7),(-10.4,39.0),(-10.9,39.5),(-11.0,39.2),(-12.5,35.1),
(-11.8,34.6),(-12.2,34.8),(-12.0,37.5),(-11.3,37.9),(-11.0,37.2),(-11.6,36.8),(-14.6,32.5),(-14.2,33.3),(-14.0,34.4),(-15.0,34.6),
(-14.5,34.2),(-13.5,36.5),(-13.2,38.3),(-12.7,39.9),(-10.8,40.5),(-11.1,41.6),(-9.8,40.0),(-9.6,37.4),(-10.1,38.2),(-8.6,39.5),
(-12.3,44.5),(-13.3,43.8),
]

# ---------------- figure ----------------
FONT = "Liberation Sans, Arial, Helvetica, sans-serif"
W, H = 651, 481
ML, MR, MT, MB = 87, 5, 10, 67
PW, PH = W - ML - MR, H - MT - MB


def px_x(px):
    return (px - ML) / PW


def px_y(py):
    return (H - MB - py) / PH


top_dom = [px_y(200), 1.0]
bot_dom = [0.0, px_y(224)]

ox2_x = [p[0] for p in ox2_points]
ox2_y = [p[1] for p in ox2_points]
ox1_x = [p[0] for p in ox1_points]
ox1_y = [p[1] for p in ox1_points]

fig = go.Figure()


def add_panel(xs, ys, slope, intercept, band, yref):
    fig.add_trace(go.Scatter(x=xs, y=ys, yaxis=yref, mode="markers",
                             marker=dict(size=3.3, symbol="square", color="black",
                                         line=dict(width=0)),
                             hoverinfo="skip", showlegend=False))
    fit = [intercept + slope * x for x in band_x]
    upper = [f + w for f, w in zip(fit, band)]
    lower = [f - w for f, w in zip(fit, band)]
    for arr in (upper, lower):
        fig.add_trace(go.Scatter(x=band_x, y=arr, yaxis=yref, mode="lines",
                                 line=dict(color="black", width=1, shape="spline"),
                                 hoverinfo="skip", showlegend=False))
    fig.add_trace(go.Scatter(x=band_x, y=fit, yaxis=yref, mode="lines",
                             line=dict(color="#d11a1a", width=3),
                             hoverinfo="skip", showlegend=False))


add_panel(ox1_x, ox1_y, ox1_slope, ox1_intercept, ox1_band, "y")
add_panel(ox2_x, ox2_y, ox2_slope, ox2_intercept, ox2_band, "y2")

axis_common = dict(showline=True, linecolor="black", linewidth=1.3, ticks="outside",
                   ticklen=6, tickwidth=1.3, tickcolor="black", zeroline=False,
                   tickfont=dict(family=FONT, size=16, color="#111"))

fig.update_layout(
    width=W, height=H,
    margin=dict(l=ML, r=MR, t=MT, b=MB, pad=0),
    paper_bgcolor="white", plot_bgcolor="white",
    font=dict(family=FONT, size=16, color="#111"),
    showlegend=False,
    xaxis=dict(range=[-35, -4.99], tickvals=x_ticks, ticktext=x_ticklabels,
               ticklabeloverflow="allow", showgrid=False, anchor="y", **axis_common),
    yaxis=dict(domain=bot_dom, range=[30, 50], tickvals=ox1_ticks,
               ticktext=[str(v) for v in ox1_ticks], mirror=True,
               showgrid=True, gridcolor="#bdbdbd", gridwidth=1, anchor="x",
               **axis_common),
    yaxis2=dict(domain=top_dom, range=[285, 305], tickvals=ox2_ticks,
                ticktext=[str(v) for v in ox2_ticks], mirror=True,
                showgrid=True, gridcolor="#bdbdbd", gridwidth=1, anchor="x",
                **axis_common),
)

shapes = []
shapes.append(dict(type="line", xref="paper", yref="paper", x0=0, x1=1,
                   y0=1, y1=1, line=dict(color="#333", width=1.5)))
shapes.append(dict(type="line", xref="paper", yref="paper", x0=0, x1=1,
                   y0=bot_dom[1], y1=bot_dom[1], line=dict(color="#bdbdbd", width=1.2),
                   layer="below"))


def brace(cx, cy, half=10, amp=3.5):
    pts = [(cx - half, cy), (cx - half * 0.5, cy + amp), (cx, cy),
           (cx + half * 0.5, cy - amp), (cx + half, cy)]
    p = [(px_x(a), px_y(b)) for a, b in pts]
    path = "M {:.4f},{:.4f} Q {:.4f},{:.4f} {:.4f},{:.4f} Q {:.4f},{:.4f} {:.4f},{:.4f}".format(
        p[0][0], p[0][1], p[1][0], p[1][1], p[2][0], p[2][1], p[3][0], p[3][1], p[4][0], p[4][1])
    return dict(type="path", xref="paper", yref="paper", path=path,
                line=dict(color="#333", width=1.2))


for cy in (200, 224):
    shapes.append(brace(87, cy))
    shapes.append(brace(646, cy, half=8))

fig.update_layout(shapes=shapes)

annos = [
    dict(text=ox2_label, x=px_x(641), y=px_y(32), xanchor="right", yanchor="middle"),
    dict(text=ox1_label, x=px_x(641), y=px_y(249), xanchor="right", yanchor="middle"),
    dict(text="1000 ln(F<sup>14</sup>C)", x=px_x(25), y=px_y(217), textangle=-90,
         xanchor="center", yanchor="middle", font=dict(family=FONT, size=17, color="#111")),
    dict(text="1000 ln(1+(δ<sup>13</sup>C/1000))", x=px_x(369), y=px_y(468),
         xanchor="center", yanchor="middle", font=dict(family=FONT, size=17, color="#111")),
]
for a in annos:
    a.setdefault("font", dict(family=FONT, size=16, color="#111"))
    a.update(xref="paper", yref="paper", showarrow=False)
fig.update_layout(annotations=annos)

fig.write_html("out.html", config={"displayModeBar": False},
               post_script="document.body.style.margin='0';document.body.style.overflow='hidden';")
